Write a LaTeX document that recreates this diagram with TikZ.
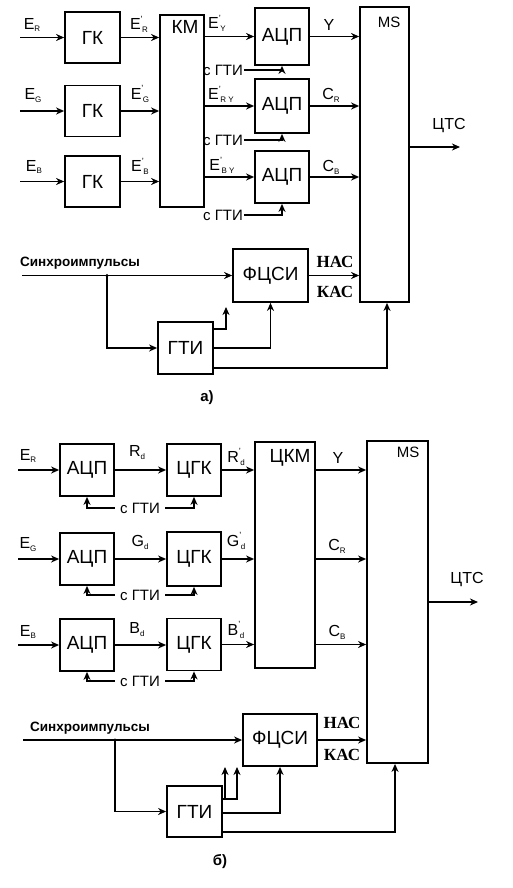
\documentclass[tikz,border=0pt]{standalone}
\usepackage{fontspec}
\setmainfont{Liberation Sans}
\newfontfamily\serifbf{Liberation Serif}
\usetikzlibrary{arrows.meta,calc}
\newcommand\sbx[1]{\raisebox{-0.35ex}{\fontsize{8}{8}\selectfont #1}}
\newcommand\prm{\raisebox{0.85ex}{\fontsize{9}{9}\selectfont '}\kern-0.5pt}
\begin{document}
\begin{tikzpicture}[x=1pt,y=-1pt,
  box/.style={draw,line width=1.8pt,inner sep=0pt,font=\fontsize{19}{19}\selectfont},
  arr/.style={line width=1.7pt,-{Stealth[length=8pt,width=7pt,inset=2.5pt]}},
  lab/.style={inner sep=0pt,font=\fontsize{16}{16}\selectfont},
  btx/.style={inner sep=0pt,font=\fontsize{19}{19}\selectfont},
  msx/.style={inner sep=0pt,font=\fontsize{15}{15}\selectfont},
  sg/.style={inner sep=1pt,font=\fontsize{15}{15}\selectfont},
  syn/.style={inner sep=0pt,font=\bfseries\fontsize{13.5}{13.5}\selectfont},
  kas/.style={inner sep=0pt,font=\serifbf\bfseries\fontsize{17}{17}\selectfont},
  captx/.style={inner sep=0pt,font=\bfseries\fontsize{15}{15}\selectfont},
  dot/.style={circle,fill,inner sep=0pt,minimum size=3.5pt}]
\useasboundingbox (0,0) rectangle (513,888);
% ================= a) =================
\node[box,minimum width=55pt,minimum height=51pt] (gk1) at (92.5,37.5) {ГК};
\node[box,minimum width=55pt,minimum height=51pt] (gk2) at (92.5,111) {ГК};
\node[box,minimum width=55pt,minimum height=51pt] (gk3) at (92.5,181.5) {ГК};
\node[box,minimum width=44pt,minimum height=192pt] (km) at (182,111) {};
\node[btx] (kmL) at (185,27) {КМ};
\node[box,minimum width=54pt,minimum height=57pt] (adc1) at (282,36.5) {АЦП};
\node[box,minimum width=54pt,minimum height=54pt] (adc2) at (282,106) {АЦП};
\node[box,minimum width=54pt,minimum height=52pt] (adc3) at (282,177) {АЦП};
\node[box,minimum width=49pt,minimum height=295pt] (ms) at (384.5,154.5) {};
\node[msx] (msL) at (389,22) {MS};
\node[box,minimum width=75pt,minimum height=53pt] (fcsi) at (270.5,275.5) {ФЦСИ};
\node[box,minimum width=55pt,minimum height=52pt] (gti) at (185.5,348) {ГТИ};

\coordinate (in1) at (20,37.5);
\coordinate (in2) at (20,111);
\coordinate (in3) at (20,181.5);
\draw[arr] (in1) -- (gk1.west);
\draw[arr] (in2) -- (gk2.west);
\draw[arr] (in3) -- (gk3.west);
\node[lab] (eR) at (32,25) {E\sbx{R}};
\node[lab] (eG) at (33,96) {E\sbx{G}};
\node[lab] (eB) at (34,167) {E\sbx{B}};
\draw[arr] (gk1.east) -- (km.west |- gk1.east);
\draw[arr] (gk2.east) -- (km.west |- gk2.east);
\draw[arr] (gk3.east) -- (km.west |- gk3.east);
\node[lab] (epR) at (139,24) {E\prm\sbx{R}};
\node[lab] (epG) at (140,94) {E\prm\sbx{G}};
\node[lab] (epB) at (140,166) {E\prm\sbx{B}};
\draw[arr] (km.east |- adc1.west) -- (adc1.west);
\draw[arr] (km.east |- adc2.west) -- (adc2.west);
\draw[arr] (km.east |- adc3.west) -- (adc3.west);
\node[lab] (eY) at (217,23) {E\prm\sbx{Y}};
\node[lab] (eRY) at (221,94) {E\prm\sbx{R Y}};
\node[lab] (eBY) at (222,165) {E\prm\sbx{B Y}};
\node[sg] (sg1) at (223,70) {с ГТИ};
\node[sg] (sg2) at (223,140) {с ГТИ};
\node[sg] (sg3) at (223,215) {с ГТИ};
\draw[arr] (sg1.east) -| (adc1.south);
\draw[arr] (sg2.east) -| (adc2.south);
\draw[arr] (sg3.east) -| (adc3.south);
\draw[arr] (adc1.east) -- (ms.west |- adc1.east);
\draw[arr] (adc2.east) -- (ms.west |- adc2.east);
\draw[arr] (adc3.east) -- (ms.west |- adc3.east);
\node[lab] (oY) at (329,25) {Y};
\node[lab] (oCR) at (331,95) {C\sbx{R}};
\node[lab] (oCB) at (331,167) {C\sbx{B}};
\coordinate (ctsA) at (460,147);
\draw[arr] (ms.east |- ctsA) -- (ctsA);
\node[lab] (cts) at (449,126) {ЦТС};

\node[syn] (sync) at (80,263) {Синхроимпульсы};
\coordinate (sA) at (22,275.5);
\coordinate (j1) at (107,275.5);
\draw[arr] (sA) -- (fcsi.west);
\node[dot] at (j1) {};
\draw[arr] (j1) |- (gti.west);
\draw[arr] (fcsi.east) -- (ms.west |- fcsi.east);
\node[kas] (nas) at (335,262) {НАС};
\node[kas] (kasA) at (335,292) {КАС};
\coordinate (g1t) at (226,307);
\draw[arr] ([yshift=-8pt]gti.north east) -| (g1t);
\draw[arr] (gti.east) -| (fcsi.south);
\draw[arr] ([yshift=-20pt]gti.east) -| ([xshift=2.5pt]ms.south);
\node[captx] (capa) at (207,398) {а)};

% ================= b) =================
\node[box,minimum width=54pt,minimum height=52pt] (adc4) at (87,470) {АЦП};
\node[box,minimum width=54pt,minimum height=52pt] (adc5) at (87,559) {АЦП};
\node[box,minimum width=54pt,minimum height=52pt] (adc6) at (87,645) {АЦП};
\node[box,minimum width=54pt,minimum height=52pt] (cgk1) at (194,470) {ЦГК};
\node[box,minimum width=54pt,minimum height=54pt] (cgk2) at (194,559) {ЦГК};
\node[box,minimum width=54pt,minimum height=52pt] (cgk3) at (194,644.5) {ЦГК};
\node[box,minimum width=60pt,minimum height=226pt] (ckm) at (285,555) {};
\node[btx] (ckmL) at (290,458) {ЦКМ};
\node[box,minimum width=61pt,minimum height=322pt] (ms2) at (397.5,602) {};
\node[msx] (ms2L) at (408,452) {MS};
\node[box,minimum width=74pt,minimum height=52pt] (fcsi2) at (280,740) {ФЦСИ};
\node[box,minimum width=55pt,minimum height=51pt] (gti2) at (194.5,811.5) {ГТИ};

\coordinate (in4) at (18,470);
\coordinate (in5) at (18,559);
\coordinate (in6) at (18,645);
\draw[arr] (in4) -- (adc4.west);
\draw[arr] (in5) -- (adc5.west);
\draw[arr] (in6) -- (adc6.west);
\node[lab] (bER) at (28,456) {E\sbx{R}};
\node[lab] (bEG) at (28,545) {E\sbx{G}};
\node[lab] (bEB) at (28,632) {E\sbx{B}};
\draw[arr] (adc4.east) -- (cgk1.west |- adc4.east);
\draw[arr] (adc5.east) -- (cgk2.west |- adc5.east);
\draw[arr] (adc6.east) -- (cgk3.west |- adc6.east);
\node[lab] (rd) at (137,453) {R\sbx{d}};
\node[lab] (gd) at (140,542) {G\sbx{d}};
\node[lab] (bd) at (137,630) {B\sbx{d}};
\node[sg] (sg4) at (140,508) {с ГТИ};
\node[sg] (sg5) at (140,595) {с ГТИ};
\node[sg] (sg6) at (140,681) {с ГТИ};
\draw[arr] ([xshift=-4pt]sg4.west) -| (adc4.south);
\draw[arr] ([xshift=4pt]sg4.east) -| (cgk1.south);
\draw[arr] ([xshift=-4pt]sg5.west) -| (adc5.south);
\draw[arr] ([xshift=4pt]sg5.east) -| (cgk2.south);
\draw[arr] ([xshift=-4pt]sg6.west) -| (adc6.south);
\draw[arr] ([xshift=4pt]sg6.east) -| (cgk3.south);
\draw[arr] (cgk1.east) -- (ckm.west |- cgk1.east);
\draw[arr] (cgk2.east) -- (ckm.west |- cgk2.east);
\draw[arr] (cgk3.east) -- (ckm.west |- cgk3.east);
\node[lab] (rpd) at (236,457) {R\prm\sbx{d}};
\node[lab] (gpd) at (236,541) {G\prm\sbx{d}};
\node[lab] (bpd) at (236,630) {B\prm\sbx{d}};
\draw[arr] (ckm.east |- cgk1.east) -- (ms2.west |- cgk1.east);
\draw[arr] (ckm.east |- cgk2.east) -- (ms2.west |- cgk2.east);
\draw[arr] (ckm.east |- cgk3.east) -- (ms2.west |- cgk3.east);
\node[lab] (bY) at (338,458) {Y};
\node[lab] (bCR) at (337,546) {C\sbx{R}};
\node[lab] (bCB) at (337,632) {C\sbx{B}};
\coordinate (ctsB) at (478,602);
\draw[arr] (ms2.east |- ctsB) -- (ctsB);
\node[lab] (cts2) at (467,580) {ЦТС};

\node[syn] (sync2) at (90,728) {Синхроимпульсы};
\coordinate (sB) at (23,740);
\coordinate (j2) at (115,740);
\draw[arr] (sB) -- (fcsi2.west);
\node[dot] at (j2) {};
\draw[arr] (j2) |- (gti2.west);
\draw[arr] (fcsi2.east) -- (ms2.west |- fcsi2.east);
\node[kas] (nas2) at (342,723) {НАС};
\node[kas] (kas2) at (342,755) {КАС};
\coordinate (g2t) at (237,767);
\coordinate (g2b) at (225,800);
\coordinate (g2c) at (225,767);
\draw[arr] ([yshift=-14pt]gti2.north east) -| (g2t);
\draw[arr] (g2b) -- (g2c);
\draw[arr] ([yshift=-1.5pt]gti2.east) -| (fcsi2.south);
\draw[arr] ([yshift=-20.5pt]gti2.east) -| ([xshift=-2.5pt]ms2.south);
\node[captx] (capb) at (220,862) {б)};
\end{tikzpicture}
\end{document}
